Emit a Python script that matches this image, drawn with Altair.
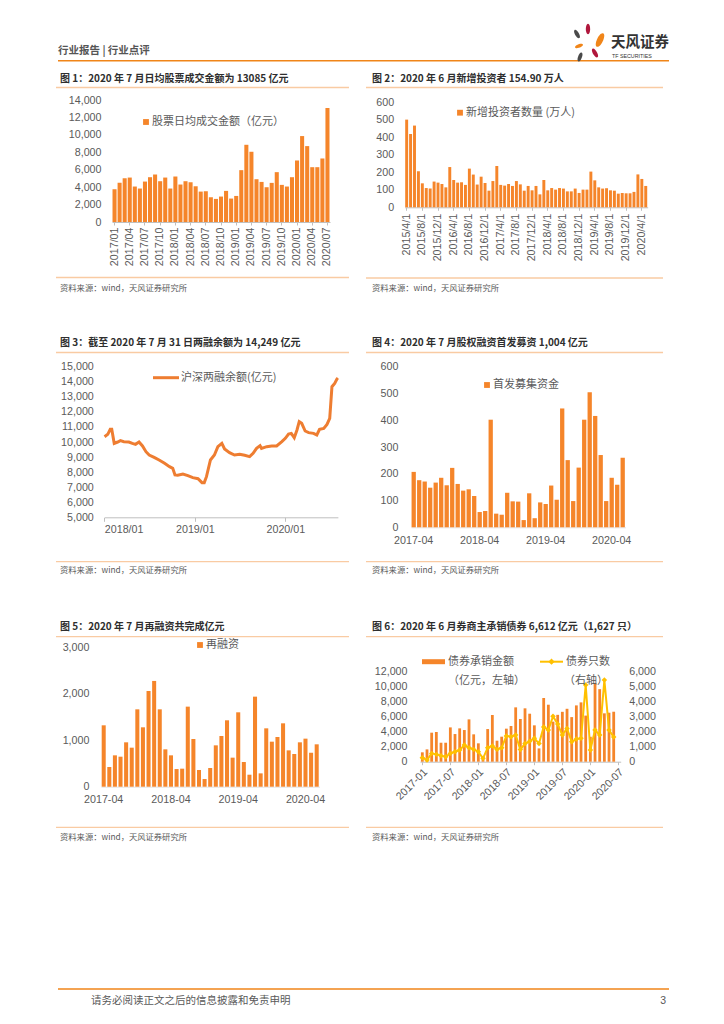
import altair as alt
import pandas as pd

FONT = "Liberation Sans, Arial, Noto Sans CJK SC"
CJK = "Noto Sans CJK SC, Liberation Sans"
ORANGE = "#F5852A"
LINE_ORANGE = "#EE7D31"
GOLD = "#FFC000"
RULE = "#F9CBA3"
HEAD = "#F08519"
LABEL = "#5A5A5A"
TITLE_C = "#2E2E2E"
SRC = "资料来源：wind，天风证券研究所"


def months(y0, m0, n, fmt):
    out = []
    y, m = y0, m0
    for _ in range(n):
        out.append(fmt(y, m))
        m += 1
        if m > 12:
            m = 1
            y += 1
    return out


# ---------------- data ----------------
# Fig 1: daily average turnover (亿元), 2017/01 - 2020/07
c1_months = months(2017, 1, 43, lambda y, m: f"{y}/{m:02d}")
c1_values = [3760, 4490, 5020, 5100, 4070, 3840, 4640, 5140, 5450, 4680, 5100, 3840,
             5220, 4300, 4680, 4560, 4100, 3490, 3530, 2840, 2650, 2920, 3570, 2690,
             2990, 5950, 8860, 8060, 4910, 4600, 3990, 4490, 5720, 4260, 4070, 5140,
             7060, 9860, 8710, 6290, 6290, 7290, 13085]
c1_ticks = c1_months[::3]

# Fig 2: new investors (万人), 2015/4 - 2020/5
c2_months = months(2015, 4, 62, lambda y, m: f"{y}/{m}/1")
c2_values = [501, 419, 467, 206, 137, 110, 107, 147, 141, 133, 114, 230,
             156, 141, 143, 128, 221, 187, 130, 175, 139, 95, 150, 236,
             128, 124, 133, 122, 150, 131, 95, 122, 97, 122, 74, 156,
             97, 110, 101, 110, 107, 91, 91, 107, 82, 101, 101, 204,
             154, 114, 107, 109, 97, 95, 78, 82, 80, 80, 88, 188, 162, 122]
c2_ticks = c2_months[::4]

# Fig 3: margin balance (亿元)
c3_dates = ["2018-01-02", "2018-01-15", "2018-01-25", "2018-01-31", "2018-02-10", "2018-02-24",
            "2018-03-07", "2018-03-21", "2018-04-10", "2018-04-24", "2018-05-07", "2018-05-21",
            "2018-06-04", "2018-06-18", "2018-07-01", "2018-07-21", "2018-08-10", "2018-09-01",
            "2018-09-21", "2018-10-04", "2018-10-13", "2018-10-24", "2018-11-14", "2018-12-04",
            "2018-12-24", "2019-01-14", "2019-01-30", "2019-02-08", "2019-02-17", "2019-03-05",
            "2019-03-21", "2019-04-04", "2019-04-20", "2019-05-01", "2019-05-21", "2019-06-10",
            "2019-07-01", "2019-07-21", "2019-08-10", "2019-08-24", "2019-09-07", "2019-09-21",
            "2019-09-27", "2019-10-18", "2019-11-07", "2019-11-27", "2019-12-18", "2020-01-01",
            "2020-01-14", "2020-01-25", "2020-02-06", "2020-02-17", "2020-02-26", "2020-03-07",
            "2020-03-21", "2020-04-04", "2020-04-24", "2020-05-07", "2020-05-18", "2020-06-04",
            "2020-06-17", "2020-06-28", "2020-07-07", "2020-07-18", "2020-07-27", "2020-07-31"]
c3_values = [10354, 10509, 10840, 10840, 9911, 10000, 10088, 10022, 10000, 9911,
             9845, 10000, 9734, 9358, 9137, 8982, 8805, 8584, 8363, 8252,
             7810, 7788, 7876, 7765, 7633, 7566, 7301, 7301, 7699, 8805,
             9137, 9690, 9911, 9535, 9292, 9137, 9181, 9115, 9026, 9248,
             9580, 9757, 9580, 9690, 9734, 9734, 10022, 10243, 10531, 10575,
             10288, 10796, 11350, 11239, 10730, 10620, 10575, 10464, 10840, 10907,
             11173, 11570, 13673, 13894, 14181, 14249]

# Fig 4: IPO proceeds (亿元), 2017-04 - 2020-06
c4_months = months(2017, 4, 39, lambda y, m: f"{y}-{m:02d}")
c4_values = [207, 176, 171, 148, 167, 185, 157, 222, 162, 137, 142, 117,
             57, 61, 402, 51, 47, 129, 97, 96, 27, 127, 34, 93,
             87, 156, 103, 444, 251, 98, 223, 402, 505, 416, 270, 98,
             185, 159, 260]
c4_ticks = ["2017-04", "2018-04", "2019-04", "2020-04"]

# Fig 5: refinancing (亿元), 2017-04 - 2020-06
c5_months = months(2017, 4, 39, lambda y, m: f"{y}-{m:02d}")
c5_values = [1321, 424, 675, 646, 955, 840, 1665, 1278, 2060, 2276, 1665, 804,
             675, 380, 388, 1723, 1027, 359, 165, 402, 890, 1091, 1429, 625,
             1601, 531, 258, 1938, 287, 1256, 969, 1070, 1364, 782, 704, 955,
             1034, 732, 912]
c5_ticks = ["2017-04", "2018-04", "2019-04", "2020-04"]

# Fig 6: bond underwriting, 2017-01 - 2020-06 (axis to 2020-07)
c6_axis = months(2017, 1, 43, lambda y, m: f"{y}-{m:02d}")
c6_months = c6_axis[:42]
c6_amount = [1240, 1630, 3840, 3930, 2510, 2510, 4540, 3660, 4410, 4190, 5600, 3620,
             2430, 700, 4320, 6180, 2780, 3310, 4370, 4720, 7190, 5650, 7060, 6350,
             4810, 1760, 8430, 7540, 5300, 6200, 6600, 7000, 5900, 7450, 7850, 6100,
             3300, 10400, 9600, 6400, 6480, 6612]
c6_count = [265, 110, 550, 485, 400, 330, 550, 660, 770, 1100, 925, 815,
            660, 220, 925, 1040, 815, 925, 1700, 1650, 1765, 800, 1200, 1350,
            1550, 1200, 2300, 2100, 3000, 2500, 1760, 2200, 1320, 1500, 1550, 5070,
            770, 2100, 1760, 5400, 2100, 1627]
c6_ticks = c6_axis[::6]

one = pd.DataFrame({"k": [0]})

# panel frames (page px): columns and rows
COL_L, COL_LW = 55, 293
COL_R, COL_RW = 363, 297
ROWS = {1: (66, 234), 2: (300, 285), 3: (585, 265)}


# ---------------- helpers ----------------
class Frame:
    def __init__(self, fx, fy, w, h):
        self.fx, self.fy, self.w, self.h = fx, fy, w, h

    def X(self, px):
        return px - self.fx

    def Y(self, py):
        return py - self.fy

    def txt(self, text, x, y, size, color, weight="normal", align="left", font=CJK):
        return alt.Chart(one).mark_text(text=text, align=align, baseline="middle", fontSize=size,
                                        color=color, fontWeight=weight, font=font).encode(
            x=alt.value(self.X(x)), y=alt.value(self.Y(y)))

    def hrule(self, x1, x2, y, color, width=1.0):
        return alt.Chart(one).mark_rule(color=color, strokeWidth=width).encode(
            x=alt.value(self.X(x1)), x2=alt.value(self.X(x2)), y=alt.value(self.Y(y)))

    def sym(self, x, y, shape, color, size):
        return alt.Chart(one).mark_point(shape=shape, filled=True, color=color, size=size, opacity=1).encode(
            x=alt.value(self.X(x)), y=alt.value(self.Y(y)))

    def box(self):
        # white edge rules that fix the panel's bounds to its frame
        return [
            alt.Chart(one).mark_rule(color="#ffffff", strokeWidth=1).encode(
                x=alt.value(0.5), x2=alt.value(self.w - 0.5), y=alt.value(0.5)),
            alt.Chart(one).mark_rule(color="#ffffff", strokeWidth=1).encode(
                x=alt.value(0.5), x2=alt.value(self.w - 0.5), y=alt.value(self.h - 0.5)),
        ]

    def deco(self, rl, rr, tx, title, ty, tr, sr, sy):
        return self.box() + [
            self.hrule(rl, rr, tr, RULE, 1.3),
            self.hrule(rl, rr, sr, RULE, 1.3),
            self.txt(title, tx, ty, 10, TITLE_C, "bold"),
            self.txt(SRC, tx, sy, 8.3, LABEL),
        ]


def yaxis(vals, offset, pad=11, orient="left"):
    return alt.Axis(values=vals, format=",d", domain=False, ticks=False, grid=False,
                    title=None, labelPadding=pad, orient=orient, offset=offset)


# ---------------- panel 1 ----------------
F = Frame(COL_L, ROWS[1][0], COL_LW, ROWS[1][1])
df1 = pd.DataFrame({"m": c1_months, "v": c1_values})
bars1 = alt.Chart(df1).mark_bar(color=ORANGE).encode(
    x=alt.X("m:O", sort=None,
            scale=alt.Scale(domain=c1_months, range=[F.X(111), F.X(329)], paddingInner=0.2, paddingOuter=0.1),
            axis=alt.Axis(values=c1_ticks, labelAngle=-90, tickSize=3, labelPadding=2, title=None,
                          offset=F.Y(222) - F.h)),
    y=alt.Y("v:Q", scale=alt.Scale(domain=[0, 14000], range=[F.Y(222), F.Y(100)]),
            axis=yaxis(list(range(0, 14001, 2000)), -F.X(111))),
)
p1 = alt.layer(
    bars1,
    F.sym(145, 122, "square", ORANGE, 34),
    F.txt("股票日均成交金额（亿元）", 151, 122, 11, LABEL),
    *F.deco(55, 348, 59, "图 1：2020 年 7 月日均股票成交金额为 13085 亿元", 78.5, 87.5, 277.5, 288.5),
).properties(width=F.w, height=F.h)

# ---------------- panel 2 ----------------
F = Frame(COL_R, ROWS[1][0], COL_RW, ROWS[1][1])
df2 = pd.DataFrame({"m": c2_months, "v": c2_values})
bars2 = alt.Chart(df2).mark_bar(color=ORANGE).encode(
    x=alt.X("m:O", sort=None,
            scale=alt.Scale(domain=c2_months, range=[F.X(401.7), F.X(644.7)], paddingInner=0.25, paddingOuter=0.125),
            axis=alt.Axis(values=c2_ticks, labelAngle=-90, tickSize=3, labelPadding=3, title=None,
                          offset=F.Y(207.3) - F.h)),
    y=alt.Y("v:Q", scale=alt.Scale(domain=[0, 600], range=[F.Y(207.3), F.Y(102.3)]),
            axis=yaxis(list(range(0, 601, 100)), -F.X(401.7))),
)
p2 = alt.layer(
    bars2,
    F.sym(457, 112.7, "square", ORANGE, 34),
    F.txt("新增投资者数量 (万人)", 463, 112.7, 11, LABEL),
    *F.deco(363, 660, 369, "图 2：2020 年 6 月新增投资者 154.90 万人", 78.5, 87.5, 278, 289),
).properties(width=F.w, height=F.h)

# ---------------- panel 3 ----------------
F = Frame(COL_L, ROWS[2][0], COL_LW, ROWS[2][1])
df3 = pd.DataFrame({"d": c3_dates, "v": c3_values})
line3 = alt.Chart(df3).mark_line(color=LINE_ORANGE, strokeWidth=3).encode(
    x=alt.X("d:T",
            scale=alt.Scale(domain=[alt.DateTime(year=2018, month=1, date=1),
                                    alt.DateTime(year=2020, month=7, date=31)],
                            range=[F.X(103.3), F.X(336.9)]),
            axis=alt.Axis(values=[alt.DateTime(year=2018, month=1, date=1),
                                  alt.DateTime(year=2019, month=1, date=1),
                                  alt.DateTime(year=2020, month=1, date=1)],
                          format="%Y/%m", labelAngle=0, tickSize=4, labelPadding=3, title=None, grid=False,
                          offset=F.Y(517.3) - F.h)),
    y=alt.Y("v:Q", scale=alt.Scale(domain=[5000, 15000], range=[F.Y(517.3), F.Y(366.7)]),
            axis=yaxis(list(range(5000, 15001, 1000)), -F.X(103.3))),
)
p3 = alt.layer(
    line3,
    F.hrule(152, 178, 377.7, LINE_ORANGE, 3),
    F.txt("沪深两融余额(亿元)", 180, 377.7, 11, LABEL),
    *F.deco(55, 348, 59, "图 3：截至 2020 年 7 月 31 日两融余额为 14,249 亿元", 343.3, 352.5, 561.7, 570.7),
).properties(width=F.w, height=F.h)

# ---------------- panel 4 ----------------
F = Frame(COL_R, ROWS[2][0], COL_RW, ROWS[2][1])
df4 = pd.DataFrame({"m": c4_months, "v": c4_values})
bars4 = alt.Chart(df4).mark_bar(color=ORANGE).encode(
    x=alt.X("m:O", sort=None,
            scale=alt.Scale(domain=c4_months, range=[F.X(407.95), F.X(622.45)], paddingInner=0.22, paddingOuter=0.11),
            axis=alt.Axis(values=c4_ticks, labelAngle=0, ticks=False, labelPadding=8, title=None,
                          domainColor="#E3E3E3", offset=F.Y(527.3) - F.h)),
    y=alt.Y("v:Q", scale=alt.Scale(domain=[0, 600], range=[F.Y(527.3), F.Y(366.7)]),
            axis=yaxis(list(range(0, 601, 100)), -F.X(407.95), pad=13)),
)
p4 = alt.layer(
    bars4,
    F.sym(484, 385, "square", ORANGE, 34),
    F.txt("首发募集资金", 490, 385, 11, LABEL),
    *F.deco(363, 660, 369, "图 4：2020 年 7 月股权融资首发募资 1,004 亿元", 343.3, 352.5, 561.7, 570.7),
).properties(width=F.w, height=F.h)

# ---------------- panel 5 ----------------
F = Frame(COL_L, ROWS[3][0], COL_LW, ROWS[3][1])
df5 = pd.DataFrame({"m": c5_months, "v": c5_values})
bars5 = alt.Chart(df5).mark_bar(color=ORANGE).encode(
    x=alt.X("m:O", sort=None,
            scale=alt.Scale(domain=c5_months, range=[F.X(99.9), F.X(318.5)], paddingInner=0.28, paddingOuter=0.14),
            axis=alt.Axis(values=c5_ticks, labelAngle=0, ticks=False, labelPadding=8, title=None,
                          domainColor="#E3E3E3", offset=F.Y(786.7) - F.h)),
    y=alt.Y("v:Q", scale=alt.Scale(domain=[0, 3000], range=[F.Y(786.7), F.Y(647.3)]),
            axis=yaxis([0, 1000, 2000, 3000], -F.X(99.9), pad=12)),
)
p5 = alt.layer(
    bars5,
    F.sym(199, 645, "square", ORANGE, 34),
    F.txt("再融资", 205, 645, 11, LABEL),
    *F.deco(55, 348, 59, "图 5：2020 年 7 月再融资共完成亿元", 627.3, 636.7, 827.3, 837.7),
).properties(width=F.w, height=F.h)

# ---------------- panel 6 ----------------
F = Frame(COL_R, ROWS[3][0], COL_RW, ROWS[3][1])
df6 = pd.DataFrame({"m": c6_months, "amt": c6_amount, "cnt": c6_count})
xs6 = alt.X("m:O", sort=None,
            scale=alt.Scale(domain=c6_axis, range=[F.X(417), F.X(617.7)], paddingInner=0.4, paddingOuter=0.2),
            axis=alt.Axis(values=c6_ticks, labelAngle=-45, tickSize=3, labelPadding=2, title=None,
                          offset=F.Y(761.7) - F.h))
bars6 = alt.Chart(df6).mark_bar(color=ORANGE).encode(
    x=xs6,
    y=alt.Y("amt:Q", scale=alt.Scale(domain=[0, 12000], range=[F.Y(761.7), F.Y(671)]),
            axis=yaxis(list(range(0, 12001, 2000)), -F.X(417), pad=13)),
)
line6 = alt.Chart(df6).mark_line(
    color=GOLD, strokeWidth=2,
    point=alt.OverlayMarkDef(shape="diamond", filled=True, size=30, color=GOLD),
).encode(
    x=xs6,
    y=alt.Y("cnt:Q", scale=alt.Scale(domain=[0, 6000], range=[F.Y(761.7), F.Y(671)]),
            axis=yaxis(list(range(0, 6001, 1000)), F.X(617.7) - F.w, pad=8, orient="right")),
)
p6 = alt.layer(
    bars6, line6,
    F.hrule(419, 442, 661.7, ORANGE, 5),
    F.txt("债券承销金额", 445, 661.7, 11, LABEL),
    F.txt("（亿元，左轴）", 445, 681, 11, LABEL),
    F.hrule(537, 560, 661.7, GOLD, 2),
    F.sym(548.5, 661.7, "diamond", GOLD, 40),
    F.txt("债券只数", 563, 661.7, 11, LABEL),
    F.txt("（右轴）", 561, 681, 11, LABEL),
    *F.deco(363, 660, 369, "图 6：2020 年 6 月券商主承销债券 6,612 亿元（1,627 只）", 627.3, 636.7, 827.3, 837.7),
).resolve_scale(y="independent").properties(width=F.w, height=F.h)

# ---------------- header & footer ----------------
F = Frame(55, 20, 613, 46)
PETAL = "M0,-1C0.55,-1 0.55,1 0,1C-0.55,1 -0.55,-1 0,-1Z"


def petal(x, y, color, size, angle):
    return alt.Chart(one).mark_point(shape=PETAL, filled=True, color=color, size=size, angle=angle,
                                     opacity=1).encode(x=alt.value(F.X(x)), y=alt.value(F.Y(y)))


header = alt.layer(
    *F.box(),
    F.hrule(57, 668, 60.7, HEAD, 1.6),
    F.txt("行业报告 | 行业点评", 57, 51, 10.5, "#555555", "bold"),
    petal(576, 34, "#4A4A4A", 90, 330),
    petal(587, 29, "#B0173C", 110, 0),
    petal(599, 40, "#F08519", 220, 25),
    petal(578, 46, "#F08519", 70, 70),
    petal(594, 53, "#B0173C", 100, 330),
    petal(579, 57, "#4A4A4A", 90, 20),
    F.txt("天风证券", 610, 43, 14.5, "#333333", "bold"),
    F.txt("TF SECURITIES", 611, 56, 5.3, "#333333", font=FONT),
).properties(width=F.w, height=F.h)

F = Frame(55, 850, 613, 160)
footer = alt.layer(
    *F.box(),
    F.hrule(57, 668, 989, HEAD, 1.6),
    F.txt("请务必阅读正文之后的信息披露和免责申明", 90, 1000.7, 10.5, "#595959"),
    F.txt("3", 665, 1000.7, 10.5, "#595959", align="right", font=FONT),
).properties(width=F.w, height=F.h)

row1 = alt.hconcat(p1, p2, spacing=15)
row2 = alt.hconcat(p3, p4, spacing=15)
row3 = alt.hconcat(p5, p6, spacing=15)

chart = alt.vconcat(
    header, row1, row2, row3, footer, spacing=0,
    padding={"left": 47, "top": 12, "right": 0, "bottom": 0},
).configure_view(strokeWidth=0).configure_axis(
    labelFont=FONT, labelFontSize=10.7, labelColor=LABEL, domainColor="#BFBFBF",
    tickColor="#BFBFBF", grid=False,
)

chart.save("out.html", embed_options={"renderer": "svg", "actions": False})
